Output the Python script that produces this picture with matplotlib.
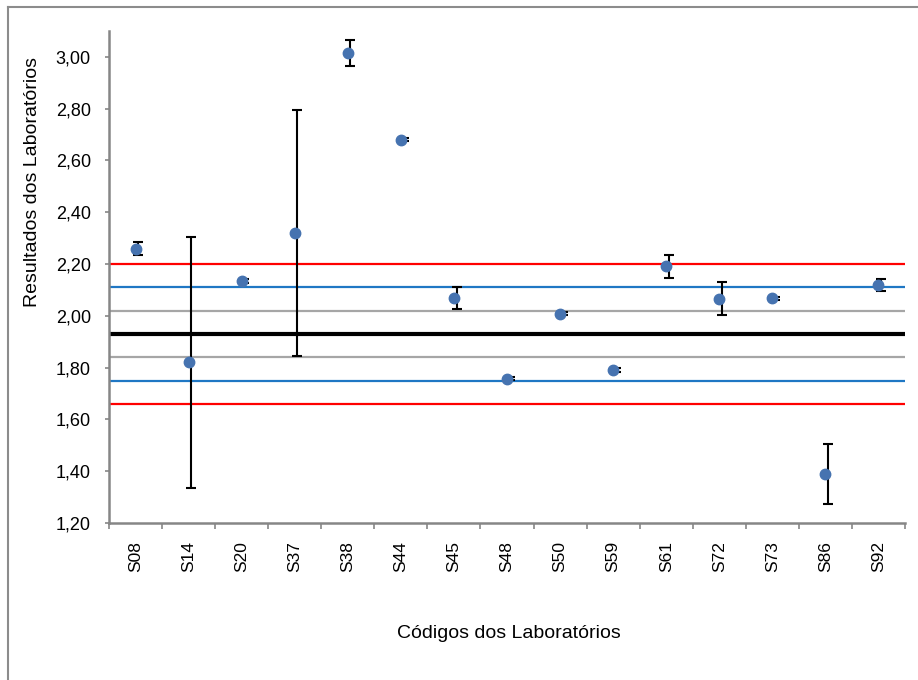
import numpy as np
import matplotlib.pyplot as plt
from matplotlib.lines import Line2D

# Dados dos laboratórios
codigos = ["S08", "S14", "S20", "S37", "S38", "S44", "S45", "S48",
           "S50", "S59", "S61", "S72", "S73", "S86", "S92"]
resultados = [2.26, 1.82, 2.135, 2.32, 3.015, 2.68, 2.07, 1.757,
              2.008, 1.79, 2.192, 2.066, 2.068, 1.39, 2.118]
incertezas = [0.025, 0.485, 0.008, 0.475, 0.05, 0.006, 0.042, 0.005,
              0.006, 0.007, 0.044, 0.063, 0.005, 0.115, 0.023]

# Linhas de referência (valor designado e limites)
media = 1.93
limites_cinza = [2.02, 1.84]
limites_azul = [2.11, 1.75]
limites_vermelho = [2.20, 1.66]

plt.rcParams["font.family"] = ["Liberation Sans", "DejaVu Sans"]

fig = plt.figure(figsize=(9.18, 6.80), dpi=100)
ax = fig.add_axes([109 / 918, 1 - 523 / 680, (905 - 109) / 918, (523 - 31) / 680])

x = np.arange(len(codigos))

for v in limites_vermelho:
    ax.axhline(v, color="#FF0000", linewidth=1.6, zorder=1)
for v in limites_azul:
    ax.axhline(v, color="#1F77C4", linewidth=1.6, zorder=1)
for v in limites_cinza:
    ax.axhline(v, color="#A6A6A6", linewidth=1.6, zorder=1)
ax.axhline(media, color="black", linewidth=3, zorder=1)

ax.errorbar(x + 0.05, resultados, yerr=incertezas, fmt="none", ecolor="black",
            elinewidth=1.5, capsize=3.6, capthick=1.5, zorder=2)
ax.plot(x, resultados, "o", color="#4673B0", markersize=7.5, zorder=3)

ax.set_xlim(-0.5, len(codigos) - 0.5)
ax.set_ylim(1.2, 3.1)
ax.set_yticks(np.arange(1.2, 3.01, 0.2))
ax.set_yticklabels([f"{t:.2f}".replace(".", ",") for t in np.arange(1.2, 3.01, 0.2)])
ax.set_xticks(x)
ax.set_xticklabels(codigos, rotation=90)
ax.set_xticks(np.arange(-0.5, len(codigos)), minor=True)
ax.tick_params(axis="x", which="major", length=0, pad=13, labelsize=12.5)
ax.tick_params(axis="x", which="minor", length=4, color="#868686", width=1.2)
ax.tick_params(axis="y", length=3, color="#868686", width=1.2, labelsize=13, pad=10)

for s in ["top", "right"]:
    ax.spines[s].set_visible(False)
for s in ["left", "bottom"]:
    ax.spines[s].set_color("#868686")
    ax.spines[s].set_linewidth(1.8)

fig.text(509 / 918, 1 - 634 / 680, "Códigos dos Laboratórios", ha="center", va="center", fontsize=14)
fig.text(33 / 918, 1 - 182 / 680, "Resultados dos Laboratórios", ha="center", va="center",
         rotation=90, fontsize=14)

# Borda da área do gráfico
fig.add_artist(Line2D([8 / 918, 8 / 918], [0, 1 - 7 / 680], color="#8C8C8C", linewidth=1.5))
fig.add_artist(Line2D([8 / 918, 1], [1 - 7 / 680, 1 - 7 / 680], color="#8C8C8C", linewidth=1.5))

fig.savefig("out.png", dpi=100)
